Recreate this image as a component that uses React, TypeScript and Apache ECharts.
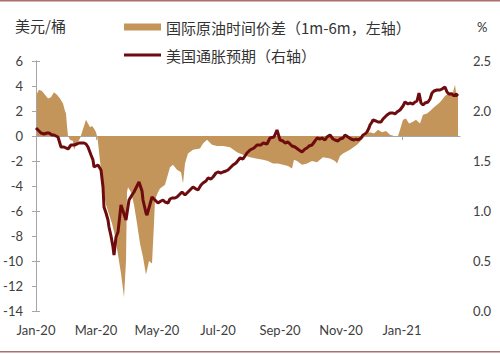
import React, { useEffect, useRef } from "react";
import * as echarts from "echarts";

// Day offsets from 2020-01-01 and values
const spreadDays = [1,3,6,9,12,15,18,21,24,27,29,30,31,32,34,37,38,41,44,46,48,50,52,54,56,58,60,61,62,64,67,70,72,76,79,82,85,88,90,91,92,95,98,101,104,107,110,113,116,118,119,122,124,129,134,137,141,145,147,149,152,157,164,167,171,176,181,187,194,201,207,214,220,227,232,237,242,247,252,256,258,261,266,271,276,281,287,294,299,301,304,307,314,321,327,331,334,338,342,346,350,354,358,362,364,367,370,373,376,380,384,387,391,394,398,401,404,406,409,412,414,417,419,420,422];
const spreadValues = [3.4,3.7,3.6,3.3,3.0,3.1,3.5,3.3,3.0,2.6,2.0,1.8,0.8,0,-0.3,-0.4,-1.1,-0.6,-0.2,0.3,0.8,1.3,1.0,0.7,0.8,0.6,0.3,0,-0.5,-2.0,-4.0,-5.5,-6.0,-7.0,-8.0,-9.5,-11.0,-12.9,-10.0,-4.5,-4.1,-4.5,-5.5,-7.0,-8.6,-9.7,-11.1,-10.0,-10.2,-7.0,-5.1,-4.5,-4.2,-3.9,-2.5,-2.3,-2.7,-2.9,-3.8,-2.2,-1.4,-1.1,-1.0,-0.6,-0.3,-0.7,-0.8,-0.8,-0.9,-1.3,-1.5,-1.7,-1.8,-1.9,-2.0,-2.2,-2.2,-2.3,-2.4,-2.6,-1.9,-2.0,-2.3,-2.2,-2.0,-2.1,-1.7,-1.8,-2.0,-2.2,-1.6,-1.4,-1.1,-0.7,-0.2,0.2,0.3,0.2,0.5,0.3,0.4,0.1,0.0,0.0,0.5,1.3,1.4,1.0,1.1,1.3,1.0,1.7,1.8,2.0,2.3,2.5,2.7,2.9,3.2,3.4,3.5,3.5,4.1,3.5,3.4];

const inflDays = [0,2,5,8,11,13,16,18,20,22,25,28,30,32,35,38,41,43,46,48,50,52,55,57,58,60,62,65,67,68,70,72,73,75,77,78,80,82,85,87,90,93,96,98,101,103,106,107,110,111,116,119,122,125,127,129,132,134,136,139,141,144,146,149,152,154,157,160,162,165,167,170,172,175,177,180,182,185,187,190,192,194,197,200,204,207,211,214,218,221,225,227,231,234,238,241,244,247,249,252,254,256,259,263,266,269,271,273,276,279,281,284,286,289,291,294,297,299,302,304,307,309,312,315,318,320,322,325,327,329,331,333,334,336,337,340,342,345,347,349,351,354,357,359,361,364,367,369,372,374,377,379,381,383,385,387,389,392,394,396,398,401,404,406,409,411,413,416,418,420,422];
const inflValues = [1.83,1.81,1.78,1.77,1.78,1.78,1.76,1.76,1.75,1.74,1.64,1.64,1.63,1.62,1.66,1.66,1.67,1.68,1.68,1.68,1.67,1.64,1.56,1.51,1.44,1.45,1.46,1.41,1.24,1.04,0.98,0.91,0.84,0.75,0.64,0.56,0.74,0.79,1.06,1.00,0.91,1.11,1.16,1.19,1.25,1.29,1.20,1.11,0.98,0.96,1.14,1.11,1.08,1.10,1.11,1.09,1.08,1.12,1.13,1.13,1.14,1.17,1.19,1.16,1.19,1.21,1.24,1.22,1.21,1.26,1.28,1.30,1.33,1.32,1.34,1.38,1.39,1.38,1.39,1.40,1.41,1.43,1.46,1.48,1.53,1.52,1.58,1.61,1.63,1.66,1.66,1.68,1.67,1.73,1.74,1.81,1.71,1.70,1.68,1.69,1.67,1.65,1.64,1.61,1.59,1.62,1.63,1.65,1.66,1.70,1.73,1.72,1.73,1.71,1.74,1.76,1.72,1.71,1.70,1.72,1.73,1.76,1.74,1.72,1.71,1.72,1.71,1.73,1.76,1.77,1.79,1.83,1.86,1.89,1.91,1.90,1.89,1.89,1.92,1.94,1.96,1.98,1.98,1.97,1.99,2.01,2.05,2.09,2.07,2.08,2.07,2.09,2.10,2.18,2.08,2.06,2.08,2.09,2.12,2.18,2.20,2.21,2.21,2.22,2.24,2.19,2.17,2.17,2.15,2.17,2.15];

const tickDates = ["2020-01-01","2020-03-01","2020-05-01","2020-07-01","2020-09-01","2020-11-01","2021-01-01"];
const tickLabels = ["Jan-20","Mar-20","May-20","Jul-20","Sep-20","Nov-20","Jan-21"];

const seriesNames = ["国际原油时间价差（1m-6m，左轴）", "美国通胀预期（右轴）"];
const leftAxisName = "美元/桶";
const rightAxisName = "%";

const BASE = Date.UTC(2020, 0, 1);
const DAY = 86400000;
const dayOf = (s: string) => {
  const [y, m, d] = s.split("-").map(Number);
  return Math.round((Date.UTC(y, m - 1, d) - BASE) / DAY);
};

const CJK = '"Noto Sans CJK SC", "Noto Sans", sans-serif';
const NUM = 'Lato, "Liberation Sans", sans-serif';
const AREA_COLOR = "#C4955A";
const LINE_COLOR = "#6E0B0E";

export default function App() {
  const ref = useRef<HTMLDivElement>(null);
  useEffect(() => {
    if (!ref.current) return;
    const chart = echarts.init(ref.current, null, { renderer: "svg" });
    const ticks = tickDates.map(dayOf);
    const xMin = 0;
    const xMax = 424;
    const fmtX = (v: number) => {
      const i = ticks.indexOf(Math.round(v));
      return i >= 0 ? tickLabels[i] : "";
    };
    chart.setOption({
      animation: false,
      backgroundColor: "#fff",
      grid: { left: 36, right: 40, top: 61, bottom: 43 },
      legend: [
        {
          data: [{ name: seriesNames[0], icon: "rect", itemStyle: { color: AREA_COLOR } }],
          left: 124,
          top: 18,
          itemWidth: 37,
          itemHeight: 7,
          itemGap: 0,
          padding: 0,
          textStyle: { fontFamily: CJK, fontSize: 15, color: "#333", lineHeight: 18 },
        },
        {
          data: [{ name: seriesNames[1], icon: "rect", itemStyle: { color: LINE_COLOR } }],
          left: 124,
          top: 46,
          itemWidth: 37,
          itemHeight: 3,
          itemGap: 0,
          padding: 0,
          textStyle: { fontFamily: CJK, fontSize: 15, color: "#333", lineHeight: 18 },
        },
      ],
      xAxis: [
        {
          type: "value",
          min: xMin,
          max: xMax,
          position: "bottom",
          axisLine: { show: false, onZero: false },
          axisTick: { show: false },
          splitLine: { show: false },
          axisLabel: {
            customValues: ticks,
            formatter: fmtX,
            fontFamily: NUM,
            fontSize: 13,
            color: "#404040",
            margin: 12,
          },
        },
        {
          type: "value",
          min: xMin,
          max: xMax,
          position: "bottom",
          axisLine: { show: true, onZero: true, onZeroAxisIndex: 0, lineStyle: { color: "#A6A6A6", width: 1 } },
          axisTick: { show: true, customValues: ticks, length: 4, lineStyle: { color: "#A6A6A6" } },
          axisLabel: { show: false },
          splitLine: { show: false },
        },
      ],
      yAxis: [
        {
          type: "value",
          min: -14,
          max: 6,
          interval: 2,
          position: "left",
          axisLine: { show: true, lineStyle: { color: "#A6A6A6", width: 1 } },
          axisTick: { show: true, length: 4, lineStyle: { color: "#A6A6A6" } },
          splitLine: { show: false },
          axisLabel: { fontFamily: NUM, fontSize: 13, color: "#404040", margin: 13 },
        },
        {
          type: "value",
          min: 0,
          max: 2.5,
          interval: 0.5,
          position: "right",
          axisLine: { show: true, lineStyle: { color: "#A6A6A6", width: 1 } },
          axisTick: { show: true, length: 4, lineStyle: { color: "#A6A6A6" } },
          splitLine: { show: false },
          axisLabel: {
            fontFamily: NUM,
            fontSize: 13,
            color: "#404040",
            margin: 13,
            formatter: (v: number) => v.toFixed(1),
          },
        },
      ],
      graphic: [
        { type: "text", left: 15, top: 18, style: { text: leftAxisName, font: `15px ${CJK}`, fill: "#333" } },
        { type: "text", left: 477, top: 20, style: { text: rightAxisName, font: `13px ${NUM}`, fill: "#333" } },
        { type: "rect", shape: { x: 0, y: 0, width: 500, height: 1.5 }, style: { fill: "#A9706F" } },
        { type: "rect", shape: { x: 0, y: 351, width: 500, height: 1.5 }, style: { fill: "#A9706F" } },
      ],
      series: [
        {
          name: seriesNames[0],
          type: "line",
          xAxisIndex: 0,
          yAxisIndex: 0,
          data: spreadDays.map((d, i) => [d, spreadValues[i]]),
          symbol: "none",
          lineStyle: { width: 0, color: AREA_COLOR },
          itemStyle: { color: AREA_COLOR },
          areaStyle: { color: AREA_COLOR, opacity: 1 },
          z: 1,
        },
        {
          name: seriesNames[1],
          type: "line",
          xAxisIndex: 0,
          yAxisIndex: 1,
          data: inflDays.map((d, i) => [d, inflValues[i]]),
          symbol: "none",
          lineStyle: { width: 3, color: LINE_COLOR },
          itemStyle: { color: LINE_COLOR },
          z: 3,
        },
      ],
    });
    return () => chart.dispose();
  }, []);
  return (
    <div
      ref={ref}
      style={{ position: "fixed", left: 0, top: 0, width: 500, height: 354 }}
    />
  );
}
